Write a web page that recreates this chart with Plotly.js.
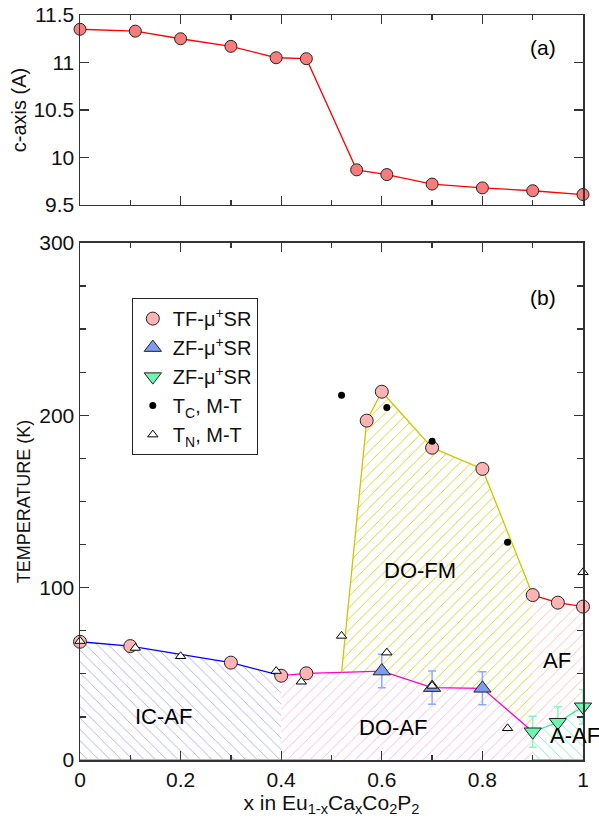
<!DOCTYPE html>
<html>
<head>
<meta charset="utf-8">
<script src="https://cdn.plot.ly/plotly-3.0.1.min.js"></script>
<style>html,body{margin:0;padding:0;background:#fff}#chart{width:599px;height:821px}</style>
</head>
<body>
<div id="chart"></div>
<script>
// ---- data ----
var cX = [0, 0.11, 0.2, 0.3, 0.39, 0.45, 0.55, 0.61, 0.7, 0.8, 0.9, 1.0];
var cVal = [11.35, 11.33, 11.25, 11.17, 11.05, 11.04, 9.87, 9.82, 9.72, 9.68, 9.65, 9.61];

var tfX = [0, 0.1, 0.3, 0.4, 0.45, 0.57, 0.6, 0.7, 0.8, 0.9, 0.95, 1.0];
var tfT = [68.6, 66.1, 56.5, 48.9, 50.3, 196.9, 213.7, 181.2, 168.9, 95.7, 91.3, 89.0];

var zfUpX = [0.6, 0.7, 0.8];
var zfUpT = [51.6, 42.0, 41.6];
var zfUpErr = [9.7, 9.6, 9.6];

var zfDnX = [0.9, 0.95, 1.0];
var zfDnT = [16.4, 21.9, 30.9];
var zfDnErr = [9.0, 9.0, 10.0];

var tcX = [0.52, 0.61, 0.7, 0.85];
var tcT = [211.6, 204.6, 184.9, 126.3];

var tnX = [0, 0.11, 0.2, 0.39, 0.44, 0.52, 0.61, 0.7, 0.85, 1.0];
var tnT = [69.0, 65.0, 60.2, 51.6, 45.4, 72.0, 62.3, 43.0, 18.4, 108.9];

// phase boundaries
var icafX = [0, 0.1, 0.3, 0.4];
var icafT = [68.6, 66.1, 56.5, 48.9];
var doafX = [0.4, 0.45, 0.52, 0.6, 0.7, 0.8, 0.9];
var doafT = [48.9, 50.3, 50.8, 51.6, 42.0, 41.6, 16.4];
var dofmX = [0.52, 0.57, 0.6, 0.7, 0.8, 0.9];
var dofmT = [50.8, 196.9, 213.7, 181.2, 168.9, 95.7];
var afX = [0.9, 0.95, 1.0];
var afT = [95.7, 91.3, 89.0];
var aafX = [0.9, 0.95, 1.0];
var aafT = [16.4, 21.9, 30.9];

var xTickVals = [0, 0.2, 0.4, 0.6, 0.8, 1];
var xTickText = ['0', '0.2', '0.4', '0.6', '0.8', '1'];

// ---- build ----
var FONT = 'Liberation Sans, Arial, Helvetica, sans-serif';
var TICKF = 21;
function pat(shape, color) {
  return {shape: shape, fgcolor: color, bgcolor: 'rgba(255,255,255,0)', size: 8, solidity: 0.1};
}

var fmPolyX = dofmX.slice();
var fmPolyT = dofmT.slice();
for (var i = doafX.length - 1; i >= 0; i--) {
  if (doafX[i] >= 0.52) { fmPolyX.push(doafX[i]); fmPolyT.push(doafT[i]); }
}
var afPolyX = afX.concat(aafX.slice().reverse());
var afPolyT = afT.concat(aafT.slice().reverse());

var traces = [];
traces.push({x: icafX, y: icafT, xaxis: 'x', yaxis: 'y', mode: 'lines', fill: 'tozeroy',
  fillcolor: 'rgba(0,0,0,0)', fillpattern: pat('\\', '#a0a0f0'),
  line: {color: '#0000ff', width: 1.3}, showlegend: false, hoverinfo: 'skip', cliponaxis: false});
traces.push({x: doafX, y: doafT, xaxis: 'x', yaxis: 'y', mode: 'lines', fill: 'tozeroy',
  fillcolor: 'rgba(0,0,0,0)', fillpattern: pat('/', '#ffa6ea'),
  line: {color: 'rgba(0,0,0,0)', width: 0}, showlegend: false, hoverinfo: 'skip'});
traces.push({x: fmPolyX, y: fmPolyT, xaxis: 'x', yaxis: 'y', mode: 'lines', fill: 'toself',
  fillcolor: 'rgba(0,0,0,0)', fillpattern: pat('/', '#cccc00'),
  line: {color: 'rgba(0,0,0,0)', width: 0}, showlegend: false, hoverinfo: 'skip'});
traces.push({x: afPolyX, y: afPolyT, xaxis: 'x', yaxis: 'y', mode: 'lines', fill: 'toself',
  fillcolor: 'rgba(0,0,0,0)', fillpattern: pat('/', '#ffb4b4'),
  line: {color: 'rgba(0,0,0,0)', width: 0}, showlegend: false, hoverinfo: 'skip'});
traces.push({x: aafX, y: aafT, xaxis: 'x', yaxis: 'y', mode: 'lines', fill: 'tozeroy',
  fillcolor: 'rgba(0,0,0,0)', fillpattern: pat('\\', '#66eebb'),
  line: {color: '#22ee99', width: 1.3}, showlegend: false, hoverinfo: 'skip'});
traces.push({x: doafX, y: doafT, xaxis: 'x', yaxis: 'y', mode: 'lines',
  line: {color: '#ff00cc', width: 1.3}, showlegend: false, hoverinfo: 'skip'});
traces.push({x: dofmX, y: dofmT, xaxis: 'x', yaxis: 'y', mode: 'lines',
  line: {color: '#c8c800', width: 1.3}, showlegend: false, hoverinfo: 'skip'});
traces.push({x: afX, y: afT, xaxis: 'x', yaxis: 'y', mode: 'lines',
  line: {color: '#ff0000', width: 1.3}, showlegend: false, hoverinfo: 'skip', cliponaxis: false});
traces.push({x: [0, 0.5, null, 0.9, 1], y: [0, 0, null, 0, 0], xaxis: 'x', yaxis: 'y', mode: 'lines',
  line: {color: '#c8c800', width: 2}, showlegend: false, hoverinfo: 'skip', cliponaxis: false});

traces.push({x: tfX, y: tfT, xaxis: 'x', yaxis: 'y', mode: 'markers', name: 'TF-μ<sup>+</sup>SR',
  marker: {symbol: 'circle', size: 13, color: '#ffb3b3', line: {color: '#222', width: 1}}, cliponaxis: false});
traces.push({x: zfUpX, y: zfUpT, xaxis: 'x', yaxis: 'y', mode: 'markers', name: 'ZF-μ<sup>+</sup>SR',
  error_y: {type: 'data', array: zfUpErr, color: '#88aaff', thickness: 1.5, width: 4},
  marker: {symbol: 'triangle-up', size: 15, color: '#7b9cf0', line: {color: '#222', width: 1}}, cliponaxis: false});
traces.push({x: zfDnX, y: zfDnT, xaxis: 'x', yaxis: 'y', mode: 'markers', name: 'ZF-μ<sup>+</sup>SR',
  error_y: {type: 'data', array: zfDnErr, color: '#88f5c4', thickness: 1.5, width: 4},
  marker: {symbol: 'triangle-down', size: 15, color: '#70f5b0', line: {color: '#222', width: 1}}, cliponaxis: false});
traces.push({x: tcX, y: tcT, xaxis: 'x', yaxis: 'y', mode: 'markers', name: 'T<sub>C</sub>, M-T',
  marker: {symbol: 'circle', size: 7, color: '#000'}, cliponaxis: false});
traces.push({x: tnX, y: tnT, xaxis: 'x', yaxis: 'y', mode: 'markers', name: 'T<sub>N</sub>, M-T',
  marker: {symbol: 'triangle-up', size: 9, color: '#fff', line: {color: '#000', width: 1}}, cliponaxis: false});

traces.push({x: cX, y: cVal, xaxis: 'x2', yaxis: 'y2', mode: 'lines+markers', showlegend: false,
  line: {color: '#ff0000', width: 1.3},
  marker: {symbol: 'circle', size: 12, color: '#f87c7c', line: {color: '#222', width: 1}}, cliponaxis: false});

var axLine = {showline: true, linecolor: '#333', linewidth: 1.5, mirror: 'ticks', ticks: 'inside',
  tickcolor: '#333', tickwidth: 1.3, showgrid: false, zeroline: false};
function ax(o) { var r = {}; for (var k in axLine) r[k] = axLine[k]; for (var k2 in o) r[k2] = o[k2]; return r; }

function lab(x, y, t, xr, yr, s) {
  return {xref: xr, yref: yr, x: x, y: y, text: t, showarrow: false, xanchor: 'center', yanchor: 'middle',
    font: {size: s, color: '#000'}};
}

var layout = {
  width: 599, height: 821,
  margin: {l: 80, r: 16, t: 15, b: 61},
  paper_bgcolor: '#fff', plot_bgcolor: '#fff',
  font: {family: FONT, size: 18, color: '#111'},
  showlegend: true,
  legend: {x: 0.103, y: 0.62, xanchor: 'left', yanchor: 'top', bgcolor: '#fff',
    bordercolor: '#222', borderwidth: 1, font: {family: FONT, size: 20, color: '#111'},
    tracegroupgap: 0, itemwidth: 30},
  xaxis: ax({domain: [0, 1], range: [0, 1], anchor: 'y', tickvals: xTickVals, ticktext: xTickText,
    ticklen: 9, minor: {dtick: 0.1, tick0: 0, ticks: 'inside', ticklen: 5, tickcolor: '#333'},
    title: {text: 'x in Eu<sub>1-x</sub>Ca<sub>x</sub>Co<sub>2</sub>P<sub>2</sub>', font: {size: 21}, standoff: 4},
    tickfont: {size: TICKF}}),
  yaxis: ax({domain: [0, 0.694], range: [0, 300], anchor: 'x', dtick: 100, ticklen: 9,
    minor: {dtick: 25, ticks: 'inside', ticklen: 6, tickcolor: '#333'},
    title: {text: 'TEMPERATURE (K)', font: {size: 18}, standoff: 4}, tickfont: {size: TICKF}}),
  xaxis2: ax({domain: [0, 1], range: [0, 1], anchor: 'y2', showticklabels: false, tickvals: xTickVals,
    ticklen: 9, minor: {dtick: 0.1, tick0: 0, ticks: 'inside', ticklen: 5, tickcolor: '#333'}}),
  yaxis2: ax({domain: [0.745, 1], range: [9.5, 11.5], anchor: 'x2', dtick: 0.5, ticklen: 9,
    title: {text: 'c-axis (A)', font: {size: 20}, standoff: 1}, tickfont: {size: TICKF}}),
  annotations: [
    lab(0.92, 0.957, '(a)', 'paper', 'paper', 21),
    lab(0.92, 0.621, '(b)', 'paper', 'paper', 21),
    lab(0.165, 25, 'IC-AF', 'x', 'y', 22),
    lab(0.622, 19, 'DO-AF', 'x', 'y', 22),
    lab(0.676, 110, 'DO-FM', 'x', 'y', 22),
    lab(0.948, 58, 'AF', 'x', 'y', 22),
    lab(0.985, 14.5, 'A-AF', 'x', 'y', 22)
  ]
};

Plotly.newPlot('chart', traces, layout, {displayModeBar: false, staticPlot: true});
</script>
</body>
</html>
